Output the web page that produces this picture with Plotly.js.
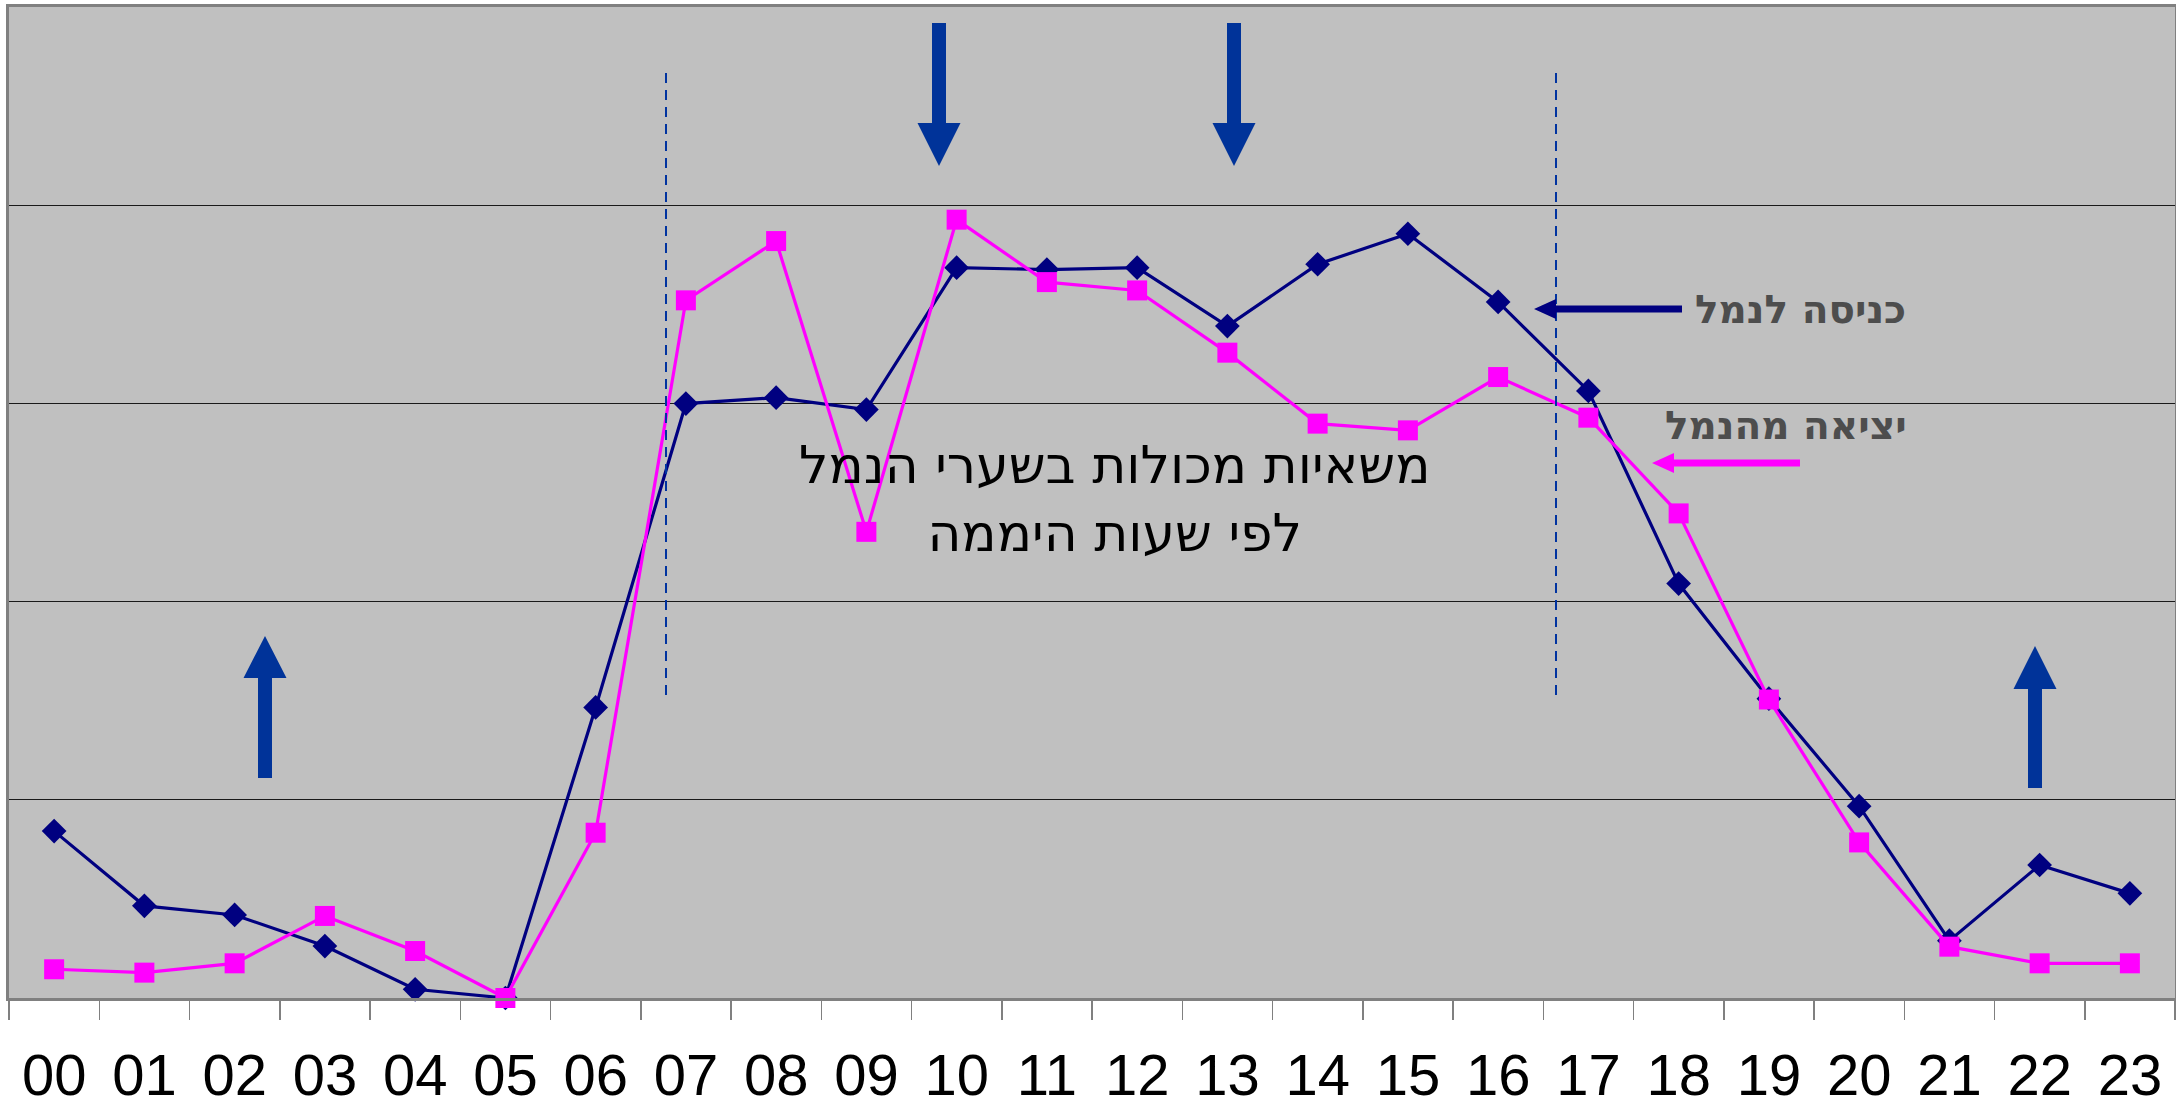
<!DOCTYPE html>
<html>
<head>
<meta charset="utf-8">
<script src="https://cdn.plot.ly/plotly-3.0.1.min.js"></script>
<style>
html,body{margin:0;padding:0;background:#fff;}
#chart{width:2176px;height:1115px;}
</style>
</head>
<body>
<div id="chart"></div>
<script>
// ---- data ----
const hours = ['00','01','02','03','04','05','06','07','08','09','10','11','12','13','14','15','16','17','18','19','20','21','22','23'];
const entryName = 'כניסה לנמל';
const exitName = 'יציאה מהנמל';
const entryValues = [84.2, 46.5, 41.9, 26.2, 4.4, 0, 146.6, 299.9, 302.9, 296.9, 368.5, 367.5, 368.5, 339.0, 370.2, 385.6, 351.2, 306.3, 209.1, 151.0, 96.8, 28.9, 67.1, 52.8];
const exitValues = [14.5, 12.8, 17.5, 41.4, 23.7, 0, 83.4, 352.0, 381.9, 235.2, 392.7, 361.2, 357.0, 325.6, 289.8, 286.4, 313.3, 292.8, 244.5, 150.6, 78.5, 25.9, 17.5, 17.5];
const titleLines = ['משאיות מכולות בשערי הנמל', 'לפי שעות היממה'];

// ---- layout geometry (pixels of the 2176x1115 page) ----
const W = 2176, H = 1115;
const M = {l: 9, r: 1, t: 7, b: 117};
const PW = W - M.l - M.r, PH = H - M.t - M.b;
const px = x => (x - M.l) / PW;
const py = y => (H - M.b - y) / PH;

function downArrow(cx, top, base, tip, sw, hw, color) {
  const p = 'M' + px(cx - sw/2) + ',' + py(top) + ' L' + px(cx + sw/2) + ',' + py(top) +
    ' L' + px(cx + sw/2) + ',' + py(base) + ' L' + px(cx + hw/2) + ',' + py(base) +
    ' L' + px(cx) + ',' + py(tip) + ' L' + px(cx - hw/2) + ',' + py(base) +
    ' L' + px(cx - sw/2) + ',' + py(base) + ' Z';
  return {type: 'path', xref: 'paper', yref: 'paper', path: p, fillcolor: color, line: {width: 0}, layer: 'above'};
}
function leftArrow(tip, base, end, cy, sw, hh, color) {
  const p = 'M' + px(end) + ',' + py(cy - sw/2) + ' L' + px(base) + ',' + py(cy - sw/2) +
    ' L' + px(base) + ',' + py(cy - hh/2) + ' L' + px(tip) + ',' + py(cy) +
    ' L' + px(base) + ',' + py(cy + hh/2) + ' L' + px(base) + ',' + py(cy + sw/2) +
    ' L' + px(end) + ',' + py(cy + sw/2) + ' Z';
  return {type: 'path', xref: 'paper', yref: 'paper', path: p, fillcolor: color, line: {width: 0}, layer: 'above'};
}
function vdash(x, y0, y1) {
  return {type: 'line', xref: 'paper', yref: 'paper', x0: px(x), x1: px(x), y0: py(y0), y1: py(y1),
    line: {color: '#0033a0', width: 2, dash: '10px,7px'}, layer: 'above'};
}

const traces = [
  {
    x: hours, y: entryValues, name: entryName, type: 'scatter', mode: 'lines+markers',
    line: {color: '#000080', width: 3.2},
    marker: {symbol: 'diamond', size: 19, color: '#000080'},
    cliponaxis: false, hoverinfo: 'x+y'
  },
  {
    x: hours, y: exitValues, name: exitName, type: 'scatter', mode: 'lines+markers',
    line: {color: '#ff00ff', width: 3.2},
    marker: {symbol: 'square', size: 20, color: '#ff00ff'},
    cliponaxis: false, hoverinfo: 'x+y'
  }
];

const layout = {
  width: W, height: H,
  margin: M,
  paper_bgcolor: '#ffffff',
  plot_bgcolor: '#c0c0c0',
  showlegend: false,
  xaxis: {
    type: 'category',
    tickson: 'boundaries',
    ticks: 'outside', ticklen: 19, tickwidth: 1.5, tickcolor: '#808080',
    showgrid: false,
    showline: true, linecolor: '#808080', linewidth: 3, mirror: true,
    tickfont: {family: 'Liberation Sans, Arial, sans-serif', size: 58, color: '#000'},
    ticklabelstandoff: 24,
    range: [-0.5, 23.5],
    fixedrange: true
  },
  yaxis: {
    range: [0, 500], dtick: 100,
    showticklabels: false, ticks: '',
    showgrid: true, gridcolor: '#1a1a1a', gridwidth: 1.4,
    zeroline: false,
    showline: true, linecolor: '#808080', linewidth: 3, mirror: true,
    fixedrange: true
  },
  shapes: [
    vdash(666, 73, 695),
    vdash(1556, 73, 695),
    downArrow(939, 23, 123, 166, 14, 43, '#003399'),
    downArrow(1234, 23, 123, 166, 14, 43, '#003399'),
    downArrow(265, 778, 678, 636, 14, 43, '#003399'),
    downArrow(2035, 788, 689, 646, 14, 43, '#003399'),
    leftArrow(1534, 1556, 1682, 309, 7, 20, '#000080'),
    leftArrow(1652, 1674, 1800, 463, 7, 20, '#ff00ff')
  ],
  annotations: [
    {
      xref: 'paper', yref: 'paper', x: px(1114), y: py(499), xanchor: 'center', yanchor: 'middle',
      text: titleLines.join('<br>'), showarrow: false, align: 'center',
      font: {family: 'DejaVu Sans, sans-serif', size: 52, color: '#000'}
    },
    {
      xref: 'paper', yref: 'paper', x: px(1908), y: py(309), xanchor: 'right', yanchor: 'middle',
      text: '<b>' + entryName + '</b>', showarrow: false,
      font: {family: 'DejaVu Sans, sans-serif', size: 39, color: '#4d4d4d'}
    },
    {
      xref: 'paper', yref: 'paper', x: px(1909), y: py(425), xanchor: 'right', yanchor: 'middle',
      text: '<b>' + exitName + '</b>', showarrow: false,
      font: {family: 'DejaVu Sans, sans-serif', size: 39, color: '#4d4d4d'}
    }
  ]
};

Plotly.newPlot('chart', traces, layout, {displayModeBar: false, staticPlot: true});
</script>
</body>
</html>
